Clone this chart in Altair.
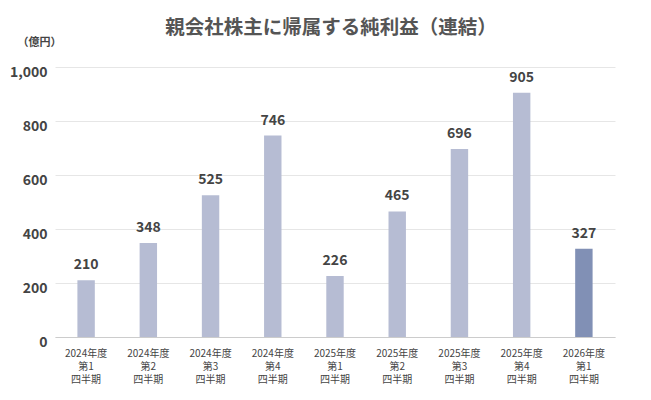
import altair as alt
import pandas as pd

categories = ["2024年度|第1|四半期", "2024年度|第2|四半期", "2024年度|第3|四半期", "2024年度|第4|四半期",
              "2025年度|第1|四半期", "2025年度|第2|四半期", "2025年度|第3|四半期", "2025年度|第4|四半期",
              "2026年度|第1|四半期"]
values = [210, 348, 525, 746, 226, 465, 696, 905, 327]
highlight = [0, 0, 0, 0, 0, 0, 0, 0, 1]

df = pd.DataFrame({"cat": categories, "val": values, "hl": highlight})
FONT = "Noto Sans CJK JP"

x = alt.X("cat:N", sort=categories,
          scale=alt.Scale(paddingInner=0.72, paddingOuter=0.36),
          axis=alt.Axis(title=None, labelAngle=0, labelExpr="split(datum.label, '|')",
                        labelFontSize=10, labelColor="#444", labelLineHeight=13,
                        labelPadding=11, ticks=False, domainColor="#cccccc", labelFont=FONT))
y = alt.Y("val:Q", scale=alt.Scale(domain=[0, 1000]),
          axis=alt.Axis(title="（億円）", titleAngle=0, titleX=-38, titleY=-20, titleAlign="left",
                        titleFontSize=11, titleFontWeight="bold", titleColor="#444", titleFont=FONT,
                        values=[0, 200, 400, 600, 800, 1000], format=",.0f",
                        labelFontSize=14, labelFontWeight="bold", labelColor="#444", labelFont=FONT,
                        labelPadding=8, labelOffset=5, ticks=False, domain=False, gridColor="#e6e6e6"))

bars = alt.Chart(df).mark_bar().encode(
    x=x, y=y,
    color=alt.Color("hl:N", scale=alt.Scale(domain=[0, 1], range=["#b6bcd3", "#8190b5"]), legend=None),
)
labels = alt.Chart(df).mark_text(dy=-15, fontSize=14, fontWeight="bold", color="#444", font=FONT).encode(
    x=alt.X("cat:N", sort=categories), y="val:Q", text=alt.Text("val:Q", format=",.0f")
)

chart = (bars + labels).properties(
    width=560, height=270,
    title=alt.TitleParams("親会社株主に帰属する純利益（連結）", fontSize=19.5, fontWeight="bold",
                          color="#555", font=FONT, anchor="middle", offset=-2, dx=-4),
    autosize=alt.AutoSizeParams(type="none"),
    padding={"left": 47, "top": 59, "right": 28, "bottom": 55},
).configure_view(stroke=None)

chart.save("out.html", embed_options={"renderer": "svg", "actions": False})
